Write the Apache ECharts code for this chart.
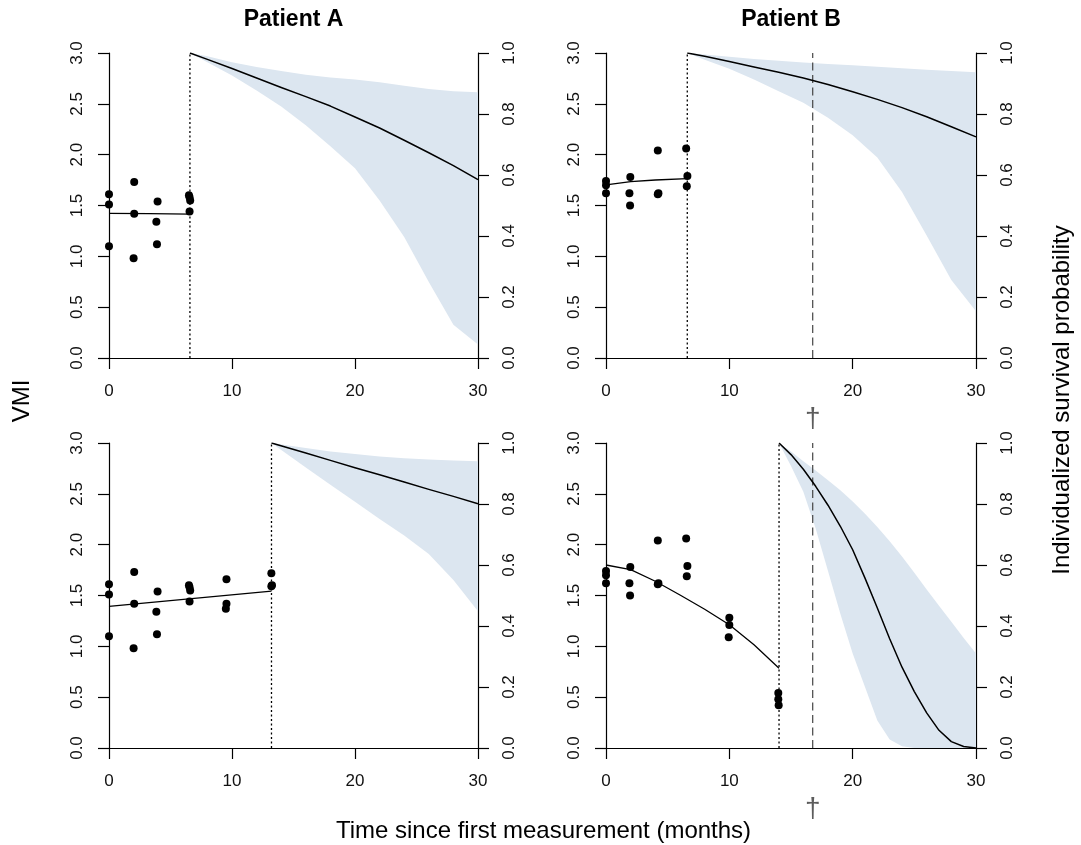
<!DOCTYPE html>
<html>
<head>
<meta charset="utf-8">
<script src="https://cdn.jsdelivr.net/npm/echarts@6/dist/echarts.min.js"></script>
<style>
html,body{margin:0;padding:0;background:#fff;}
#chart{width:1081px;height:845px;}
</style>
</head>
<body>
<div id="chart"></div>
<script>
// ---------- DATA ----------
const panelTitles = ['Patient A', 'Patient B'];
const xTicks = [0, 10, 20, 30];
const deathTime = 16.76;

// Panel A (top left)
const obsTimeA = [0, 0, 0, 2.05, 2.05, 2.0, 3.95, 3.85, 3.9, 6.5, 6.6, 6.55, 6.55];
const obsVmiA  = [1.61, 1.51, 1.10, 1.73, 1.42, 0.98, 1.54, 1.34, 1.12, 1.60, 1.55, 1.44, 1.58];
const fitTimeA = [0, 3.3, 6.58];
const fitVmiA  = [1.423, 1.42, 1.416];
const landmarkA = 6.58;
const survTimeA = [6.58, 8, 10, 12, 14, 16, 18, 20, 22, 24, 26, 28, 30];
const survMeanA = [1, 0.979, 0.949, 0.918, 0.887, 0.857, 0.826, 0.790, 0.754, 0.714, 0.673, 0.631, 0.585];
const survLowA  = [1, 0.970, 0.926, 0.877, 0.825, 0.763, 0.694, 0.622, 0.516, 0.397, 0.249, 0.109, 0.044];
const survHighA = [1, 0.989, 0.970, 0.954, 0.941, 0.929, 0.920, 0.913, 0.904, 0.893, 0.882, 0.875, 0.871];

// Panel B (top right)
const obsTimeB = [0, 0, 0, 1.97, 1.9, 1.95, 4.2, 4.25, 4.2, 6.5, 6.6, 6.55];
const obsVmiB  = [1.74, 1.70, 1.62, 1.78, 1.62, 1.50, 2.04, 1.62, 1.61, 2.06, 1.79, 1.69];
const fitTimeB = [0, 2, 4, 6.59];
const fitVmiB  = [1.702, 1.734, 1.751, 1.764];
const landmarkB = 6.59;
const survTimeB = [6.59, 8, 10, 12, 14, 16, 18, 20, 22, 24, 26, 28, 30];
const survMeanB = [1, 0.989, 0.972, 0.954, 0.937, 0.918, 0.897, 0.873, 0.848, 0.821, 0.791, 0.758, 0.725];
const survLowB  = [1, 0.978, 0.948, 0.913, 0.875, 0.837, 0.788, 0.730, 0.657, 0.544, 0.402, 0.256, 0.153];
const survHighB = [1, 0.995, 0.988, 0.980, 0.975, 0.969, 0.964, 0.960, 0.955, 0.950, 0.945, 0.941, 0.937];

// Panel C (bottom left)
const obsTimeC = [0, 0, 0, 2.05, 2.05, 2.0, 3.95, 3.85, 3.9, 6.5, 6.6, 6.55, 6.55, 9.55, 9.55, 9.5, 13.2, 13.25, 13.2];
const obsVmiC  = [1.61, 1.51, 1.10, 1.73, 1.42, 0.98, 1.54, 1.34, 1.12, 1.60, 1.55, 1.44, 1.58, 1.66, 1.42, 1.37, 1.72, 1.60, 1.59];
const fitTimeC = [0, 13.21];
const fitVmiC  = [1.393, 1.544];
const landmarkC = 13.21;
const survTimeC = [13.21, 16, 18, 20, 22, 24, 26, 28, 30];
const survMeanC = [1, 0.967, 0.943, 0.919, 0.896, 0.872, 0.848, 0.825, 0.801];
const survLowC  = [1, 0.920, 0.863, 0.807, 0.751, 0.697, 0.636, 0.551, 0.448];
const survHighC = [1, 0.984, 0.972, 0.964, 0.956, 0.950, 0.946, 0.943, 0.940];

// Panel D (bottom right)
const obsTimeD = [0, 0, 0, 1.97, 1.9, 1.95, 4.2, 4.25, 4.2, 6.5, 6.6, 6.55, 10.0, 10.0, 9.95, 13.97, 13.97, 14.0];
const obsVmiD  = [1.74, 1.70, 1.62, 1.78, 1.62, 1.50, 2.04, 1.62, 1.61, 2.06, 1.79, 1.69, 1.28, 1.21, 1.09, 0.54, 0.48, 0.42];
const fitTimeD = [0, 2, 4, 6, 8, 10, 12, 14.03];
const fitVmiD  = [1.80, 1.755, 1.64, 1.505, 1.365, 1.213, 1.015, 0.785];
const landmarkD = 14.03;
const survTimeD = [14.03, 15, 16, 17, 18, 19, 20, 21, 22, 23, 24, 25, 26, 27, 28, 29, 30];
const survMeanD = [1, 0.962, 0.914, 0.858, 0.796, 0.727, 0.650, 0.557, 0.459, 0.358, 0.265, 0.185, 0.115, 0.058, 0.021, 0.005, 0];
const survLowD  = [1, 0.925, 0.84, 0.72, 0.58, 0.44, 0.31, 0.20, 0.09, 0.028, 0.006, 0, 0, 0, 0, 0, 0];
const survHighD = [1, 0.972, 0.94, 0.91, 0.878, 0.845, 0.808, 0.768, 0.725, 0.678, 0.628, 0.575, 0.52, 0.466, 0.414, 0.361, 0.31];

// ---------- STYLE / LAYOUT ----------
const FONT = '"Liberation Sans", Arial, Helvetica, sans-serif';
const BAND = '#dce6f0';
const INK = '#000';
const gridBoxes = [
  {left: 109, top: 53, width: 369, height: 305},
  {left: 606, top: 53, width: 370, height: 305},
  {left: 109, top: 443, width: 369, height: 305},
  {left: 606, top: 443, width: 370, height: 305}
];

const panels = [
  {t: obsTimeA, v: obsVmiA, ft: fitTimeA, fv: fitVmiA, lm: landmarkA, st: survTimeA, sm: survMeanA, sl: survLowA, sh: survHighA, death: false},
  {t: obsTimeB, v: obsVmiB, ft: fitTimeB, fv: fitVmiB, lm: landmarkB, st: survTimeB, sm: survMeanB, sl: survLowB, sh: survHighB, death: true},
  {t: obsTimeC, v: obsVmiC, ft: fitTimeC, fv: fitVmiC, lm: landmarkC, st: survTimeC, sm: survMeanC, sl: survLowC, sh: survHighC, death: false},
  {t: obsTimeD, v: obsVmiD, ft: fitTimeD, fv: fitVmiD, lm: landmarkD, st: survTimeD, sm: survMeanD, sl: survLowD, sh: survHighD, death: true}
];

const axisLine = {show: true, onZero: false, lineStyle: {color: INK, width: 1.2}};
const axisTick = {show: true, inside: false, length: 11, lineStyle: {color: INK, width: 1.2}};
const labelBase = {color: '#111', fontFamily: FONT, fontSize: 17, showMinLabel: true, showMaxLabel: true};

const grids = [], xAxes = [], yAxes = [], series = [];

panels.forEach((p, i) => {
  const g = gridBoxes[i];
  grids.push(Object.assign({containLabel: false, outerBoundsMode: 'none', show: false}, g));
  xAxes.push({
    type: 'value', gridIndex: i, min: xTicks[0], max: xTicks[xTicks.length - 1], interval: 10,
    axisLine, axisTick, splitLine: {show: false},
    axisLabel: Object.assign({}, labelBase, {margin: 25})
  });
  const yl = yAxes.length;
  yAxes.push({
    type: 'value', gridIndex: i, position: 'left', min: 0, max: 3, interval: 0.5,
    axisLine, axisTick, splitLine: {show: false},
    axisLabel: Object.assign({}, labelBase, {rotate: 90, margin: 23, formatter: v => v.toFixed(1)})
  });
  yAxes.push({
    type: 'value', gridIndex: i, position: 'right', min: 0, max: 1, interval: 0.2,
    axisLine, axisTick, splitLine: {show: false},
    axisLabel: Object.assign({}, labelBase, {rotate: 90, margin: 23, formatter: v => v.toFixed(1)})
  });
  const yr = yl + 1;

  // confidence band (polygon through axis coordinates)
  series.push({
    type: 'custom', xAxisIndex: i, yAxisIndex: yr, z: 1, silent: true, clip: false,
    data: p.st.map((x, k) => [x, p.sl[k], p.sh[k]]),
    encode: {x: 0, y: [1, 2]},
    renderItem: function (params, api) {
      if (params.dataIndex !== 0) return null;
      const pts = [];
      for (let k = 0; k < p.st.length; k++) pts.push(api.coord([p.st[k], p.sl[k]]));
      for (let k = p.st.length - 1; k >= 0; k--) pts.push(api.coord([p.st[k], p.sh[k]]));
      return {type: 'polygon', shape: {points: pts}, style: {fill: BAND, stroke: null}};
    }
  });
  // survival mean curve
  series.push({
    type: 'line', xAxisIndex: i, yAxisIndex: yr, z: 3, silent: true,
    data: p.st.map((x, k) => [x, p.sm[k]]),
    showSymbol: false, smooth: false,
    lineStyle: {color: INK, width: 1.5, join: 'round'}
  });
  // fitted VMI trajectory
  series.push({
    type: 'line', xAxisIndex: i, yAxisIndex: yl, z: 3, silent: true,
    data: p.ft.map((x, k) => [x, p.fv[k]]),
    showSymbol: false, smooth: false,
    lineStyle: {color: INK, width: 1.3, join: 'round'}
  });
  // observed points
  series.push({
    type: 'scatter', xAxisIndex: i, yAxisIndex: yl, z: 4, silent: true, clip: false,
    data: p.t.map((x, k) => [x, p.v[k]]),
    symbol: 'circle', symbolSize: 8,
    itemStyle: {color: INK, opacity: 1}
  });
  // landmark (dotted vertical)
  series.push({
    type: 'line', xAxisIndex: i, yAxisIndex: yl, z: 2, silent: true,
    data: [[p.lm, 0], [p.lm, 3]],
    showSymbol: false,
    lineStyle: {color: INK, width: 1.3, type: [2, 2.5]}
  });
  if (p.death) {
    series.push({
      type: 'line', xAxisIndex: i, yAxisIndex: yl, z: 2, silent: true,
      data: [[deathTime, 0], [deathTime, 3]],
      showSymbol: false,
      lineStyle: {color: '#444', width: 1.2, type: [8, 4.5]}
    });
    series.push({
      type: 'scatter', xAxisIndex: i, yAxisIndex: yl, z: 5, silent: true, clip: false,
      data: [[deathTime, 0]],
      symbol: 'circle', symbolSize: 1,
      itemStyle: {color: 'transparent'},
      label: {show: true, position: 'inside', offset: [0, 61], formatter: '\u2020',
              fontFamily: FONT, fontSize: 28, color: '#333'}
    });
  }
});

const graphics = [
  {type: 'text', x: 293.5, y: 20, style: {text: panelTitles[0], font: 'bold 23px ' + FONT, fill: '#000', align: 'center', verticalAlign: 'middle', textAlign: 'center', textVerticalAlign: 'middle'}},
  {type: 'text', x: 791, y: 20, style: {text: panelTitles[1], font: 'bold 23px ' + FONT, fill: '#000', align: 'center', verticalAlign: 'middle', textAlign: 'center', textVerticalAlign: 'middle'}},
  {type: 'text', x: 22, y: 401, rotation: Math.PI / 2, style: {text: 'VMI', font: '24px ' + FONT, fill: '#000', align: 'center', verticalAlign: 'middle', textAlign: 'center', textVerticalAlign: 'middle'}},
  {type: 'text', x: 1062, y: 400, rotation: Math.PI / 2, style: {text: 'Individualized survival probability', font: '24px ' + FONT, fill: '#000', align: 'center', verticalAlign: 'middle', textAlign: 'center', textVerticalAlign: 'middle'}},
  {type: 'text', x: 543.5, y: 831, style: {text: 'Time since first measurement (months)', font: '24px ' + FONT, fill: '#000', align: 'center', verticalAlign: 'middle', textAlign: 'center', textVerticalAlign: 'middle'}}
];

const chart = echarts.init(document.getElementById('chart'), null, {renderer: 'canvas'});
chart.setOption({
  backgroundColor: '#fff',
  animation: false,
  textStyle: {fontFamily: FONT},
  grid: grids,
  xAxis: xAxes,
  yAxis: yAxes,
  series: series,
  graphic: graphics
});
</script>
</body>
</html>
